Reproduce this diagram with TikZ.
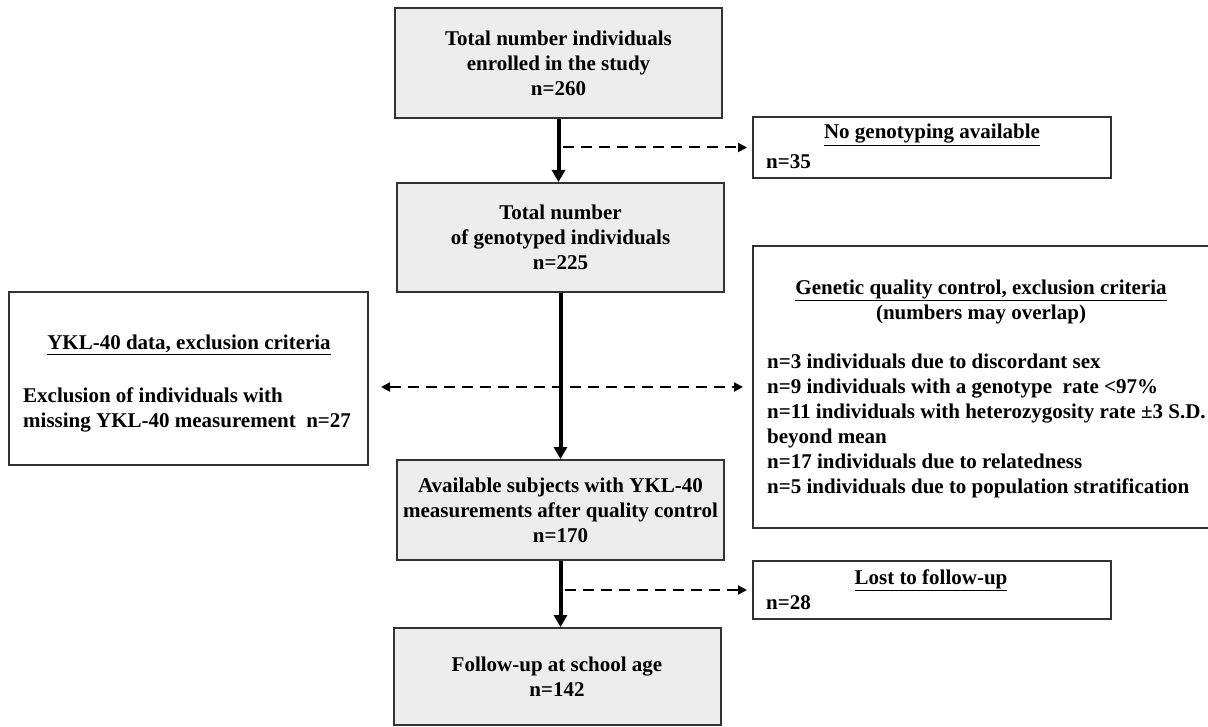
\documentclass[tikz,border=0pt]{standalone}
\usepackage{fontspec}
\setmainfont{Liberation Serif}
\usetikzlibrary{positioning}
\usetikzlibrary{arrows.meta}

\tikzset{
  graybox/.style={draw=black!80, line width=2pt, fill=black!7, minimum width=327pt, inner sep=0pt, align=center, font=\bfseries\fontsize{21}{25}\selectfont},
  whitebox/.style={draw=black!80, line width=2pt, fill=white, inner sep=0pt},
  lbl/.style={inner sep=0pt, font=\bfseries\fontsize{21}{25}\selectfont},
  mainarrow/.style={line width=4pt, -{Triangle[length=12pt,width=13pt]}},
  sidearrow/.style={line width=2pt, dash pattern=on 11pt off 7pt, -{Triangle[length=9pt,width=9pt]}},
}

\begin{document}
\begin{tikzpicture}[x=1pt, y=-1pt]
            \useasboundingbox (0,0) rectangle (1208,727);

            % Main boxes
            \node[graybox, minimum height=110pt] (enrol) at (558.5,63) {Total number individuals\\enrolled in the study\\n=260};
            \node[graybox, minimum height=109pt] (geno) at (560.5,237.5) {Total number\\of genotyped individuals\\n=225};
            \node[graybox, minimum height=100pt] (avail) at (560.5,510) {Available subjects with YKL-40\\measurements after quality control\\n=170};
            \node[graybox, minimum height=97pt] (follow) at (557,676.5) {Follow-up at school age\\n=142};

            % Exclusion boxes
            \node[whitebox, minimum width=358pt, minimum height=61pt] (nogeno) at (932,147.5) {};
            \node[lbl] (nogenotitle) at (932,135) {\underline{No genotyping available}};
            \node[lbl, right] (nogenon) at (766,162) {n=35};

            \node[whitebox, minimum width=459pt, minimum height=282pt] (genetic) at (982.5,387) {};
            \node[lbl, align=center] (genetictitle) at (981,301.5) {\underline{Genetic quality control, exclusion criteria}\\(numbers may overlap)};
            \node[lbl, right, align=left] (geneticlist) at (767,426) {n=3 individuals due to discordant sex\\n=9 individuals with a genotype\ \ rate <97\%\\n=11 individuals with heterozygosity rate ±3 S.D.\\beyond mean\\n=17 individuals due to relatedness\\n=5 individuals due to population stratification};

            \node[whitebox, minimum width=359pt, minimum height=173pt] (ykl) at (188.5,378.5) {};
            \node[lbl] (ykltitle) at (189,345) {\underline{YKL-40 data, exclusion criteria}};
            \node[lbl, right, align=left] (ykltext) at (23,409.5) {Exclusion of individuals with\\missing YKL-40 measurement\ \ n=27};

            \node[whitebox, minimum width=358pt, minimum height=58pt] (lost) at (932,590) {};
            \node[lbl] (losttitle) at (931,580) {\underline{Lost to follow-up}};
            \node[lbl, right] (lostn) at (766,603) {n=28};

            % Arrows
            \draw[mainarrow] (enrol.south) -- (enrol.south |- geno.north);
            \draw[mainarrow] (geno.south) -- (geno.south |- avail.north);
            \draw[mainarrow] (avail.south) -- (avail.south |- follow.north);
            \draw[sidearrow, shorten >=5pt] ([xshift=4pt]enrol.south |- nogeno.west) -- (nogeno.west);
            \draw[sidearrow, shorten >=5pt] ([xshift=4pt]avail.south |- lost.west) -- (lost.west);
            \draw[sidearrow, {Triangle[length=9pt,width=9pt]}-{Triangle[length=9pt,width=9pt]}, shorten <=12pt, shorten >=9pt] (genetic.west -| ykl.east) -- (genetic.west);
        \end{tikzpicture}
\end{document}
